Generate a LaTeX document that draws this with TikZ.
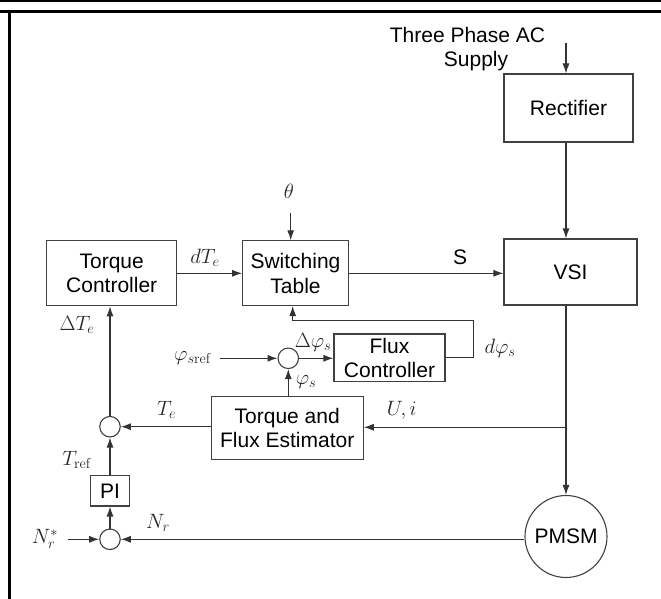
\documentclass[tikz,border=0pt]{standalone}
\usepackage[no-math]{fontspec}
\setmainfont{Liberation Sans}
\usetikzlibrary{arrows.meta}
\begin{document}
\begin{tikzpicture}[x=1pt,y=-1pt,
  blk/.style={draw=black!75, line width=1.1pt, fill=white, inner sep=0pt, align=center, font=\fontsize{21}{24.5}\selectfont},
  sumc/.style={circle, draw=black!75, line width=1.1pt, minimum size=20.5pt, inner sep=0pt},
  arr/.style={-{Latex[length=10pt,width=7pt]}, draw=black!80, line width=1.1pt},
  lbl/.style={font=\fontsize{20}{22}\selectfont, inner sep=0pt, text=black!85},
  txt/.style={font=\fontsize{21}{24.5}\selectfont, inner sep=0pt}]
\useasboundingbox (0,0) rectangle (661,599);
% frame
\fill[black] (0,0) rectangle (661,2.5);
\fill[black] (0,10) rectangle (661,12.7);
\fill[black] (8.3,10) rectangle (10.7,599);
% blocks
\node[blk, minimum width=129pt, minimum height=68pt] (rect) at (568.5,108) {Rectifier};
\node[blk, minimum width=133pt, minimum height=66pt] (vsi) at (570.5,272) {VSI};
\node[blk, minimum width=130pt, minimum height=65pt] (tc) at (111.7,273.3) {Torque\\Controller};
\node[blk, minimum width=105.6pt, minimum height=65pt] (st) at (295.5,273.3) {Switching\\Table};
\node[blk, minimum width=111pt, minimum height=47.7pt] (fc) at (389.5,357.8) {Flux\\Controller};
\node[blk, minimum width=152pt, minimum height=62.7pt] (est) at (287.2,428) {Torque and\\Flux Estimator};
\node[blk, minimum width=39pt, minimum height=30.3pt] (pi) at (110,490.8) {PI};
\node[sumc] (s1) at (288.3,358.3) {};
\node[sumc] (s2) at (110,426.7) {};
\node[sumc] (s3) at (110,539.3) {};
\node[circle, draw=black!75, line width=1.1pt, minimum size=82pt, inner sep=0pt, font=\fontsize{21}{24.5}\selectfont] (pmsm) at (566,536.5) {PMSM};
% text labels
\node[txt, anchor=base] (tpac) at (467.5,42.7) {Three Phase AC};
\node[txt, anchor=base] (supply) at (476,66.7) {Supply};
\node[txt] (slbl) at (460,257) {S};
\node[lbl] (dte) at (205,258) {$dT_e$};
\node[lbl] (thl) at (289,191) {$\theta$};
\node[lbl] (dtel) at (77,325) {$\Delta T_e$};
\node[lbl] (dphil) at (313,342) {$\Delta\varphi_s$};
\node[lbl] (phirefl) at (193,358) {$\varphi_{s\mathrm{ref}}$};
\node[lbl] (phisl) at (306,382) {$\varphi_s$};
\node[lbl] (dphifl) at (500,348) {$d\varphi_s$};
\node[lbl] (tel) at (166.7,410) {$T_e$};
\node[lbl] (uil) at (401.7,410) {$U,i$};
\node[lbl] (trefl) at (77,460) {$T_{\mathrm{ref}}$};
\node[lbl] (nrl) at (158,523) {$N_r$};
\node[lbl] (nrsl) at (45,539) {$N_r^*$};
% coordinates
\coordinate (sup) at (566,43);
\coordinate (th) at (290.7,213);
\coordinate (fb) at (473.3,320.7);
\coordinate (stin) at (292.7,306);
\coordinate (phiref) at (220,358.3);
\coordinate (j) at (566,427.3);
\coordinate (nref) at (68,539.3);
% connectors
\draw[arr] (sup) -- (sup |- rect.north);
\draw[arr] (sup |- rect.south) -- (sup |- vsi.north);
\draw[arr] (sup |- vsi.south) -- (pmsm.north);
\draw[arr] (st.east) -- (st.east -| vsi.west);
\draw[arr] (tc.east) -- (tc.east -| st.west);
\draw[arr] (th) -- (th |- st.north);
\draw[arr] (fc.east) -| (fb) -| (stin);
\draw[arr] (phiref) -- (s1.west);
\draw[arr] (s1.east) -- (s1.east -| fc.west);
\draw[arr] (s1 |- est.north) -- (s1.south);
\draw[arr] (s2 -| est.west) -- (s2.east);
\draw[arr] (j) -- (j -| est.east);
\draw[arr] (s2.north) -- (s2 |- tc.south);
\draw[arr] (pi.north) -- (s2.south);
\draw[arr] (s3.north) -- (pi.south);
\draw[arr] (nref) -- (s3.west);
\draw[arr] (s3 -| pmsm.west) -- (s3.east);
\end{tikzpicture}
\end{document}
